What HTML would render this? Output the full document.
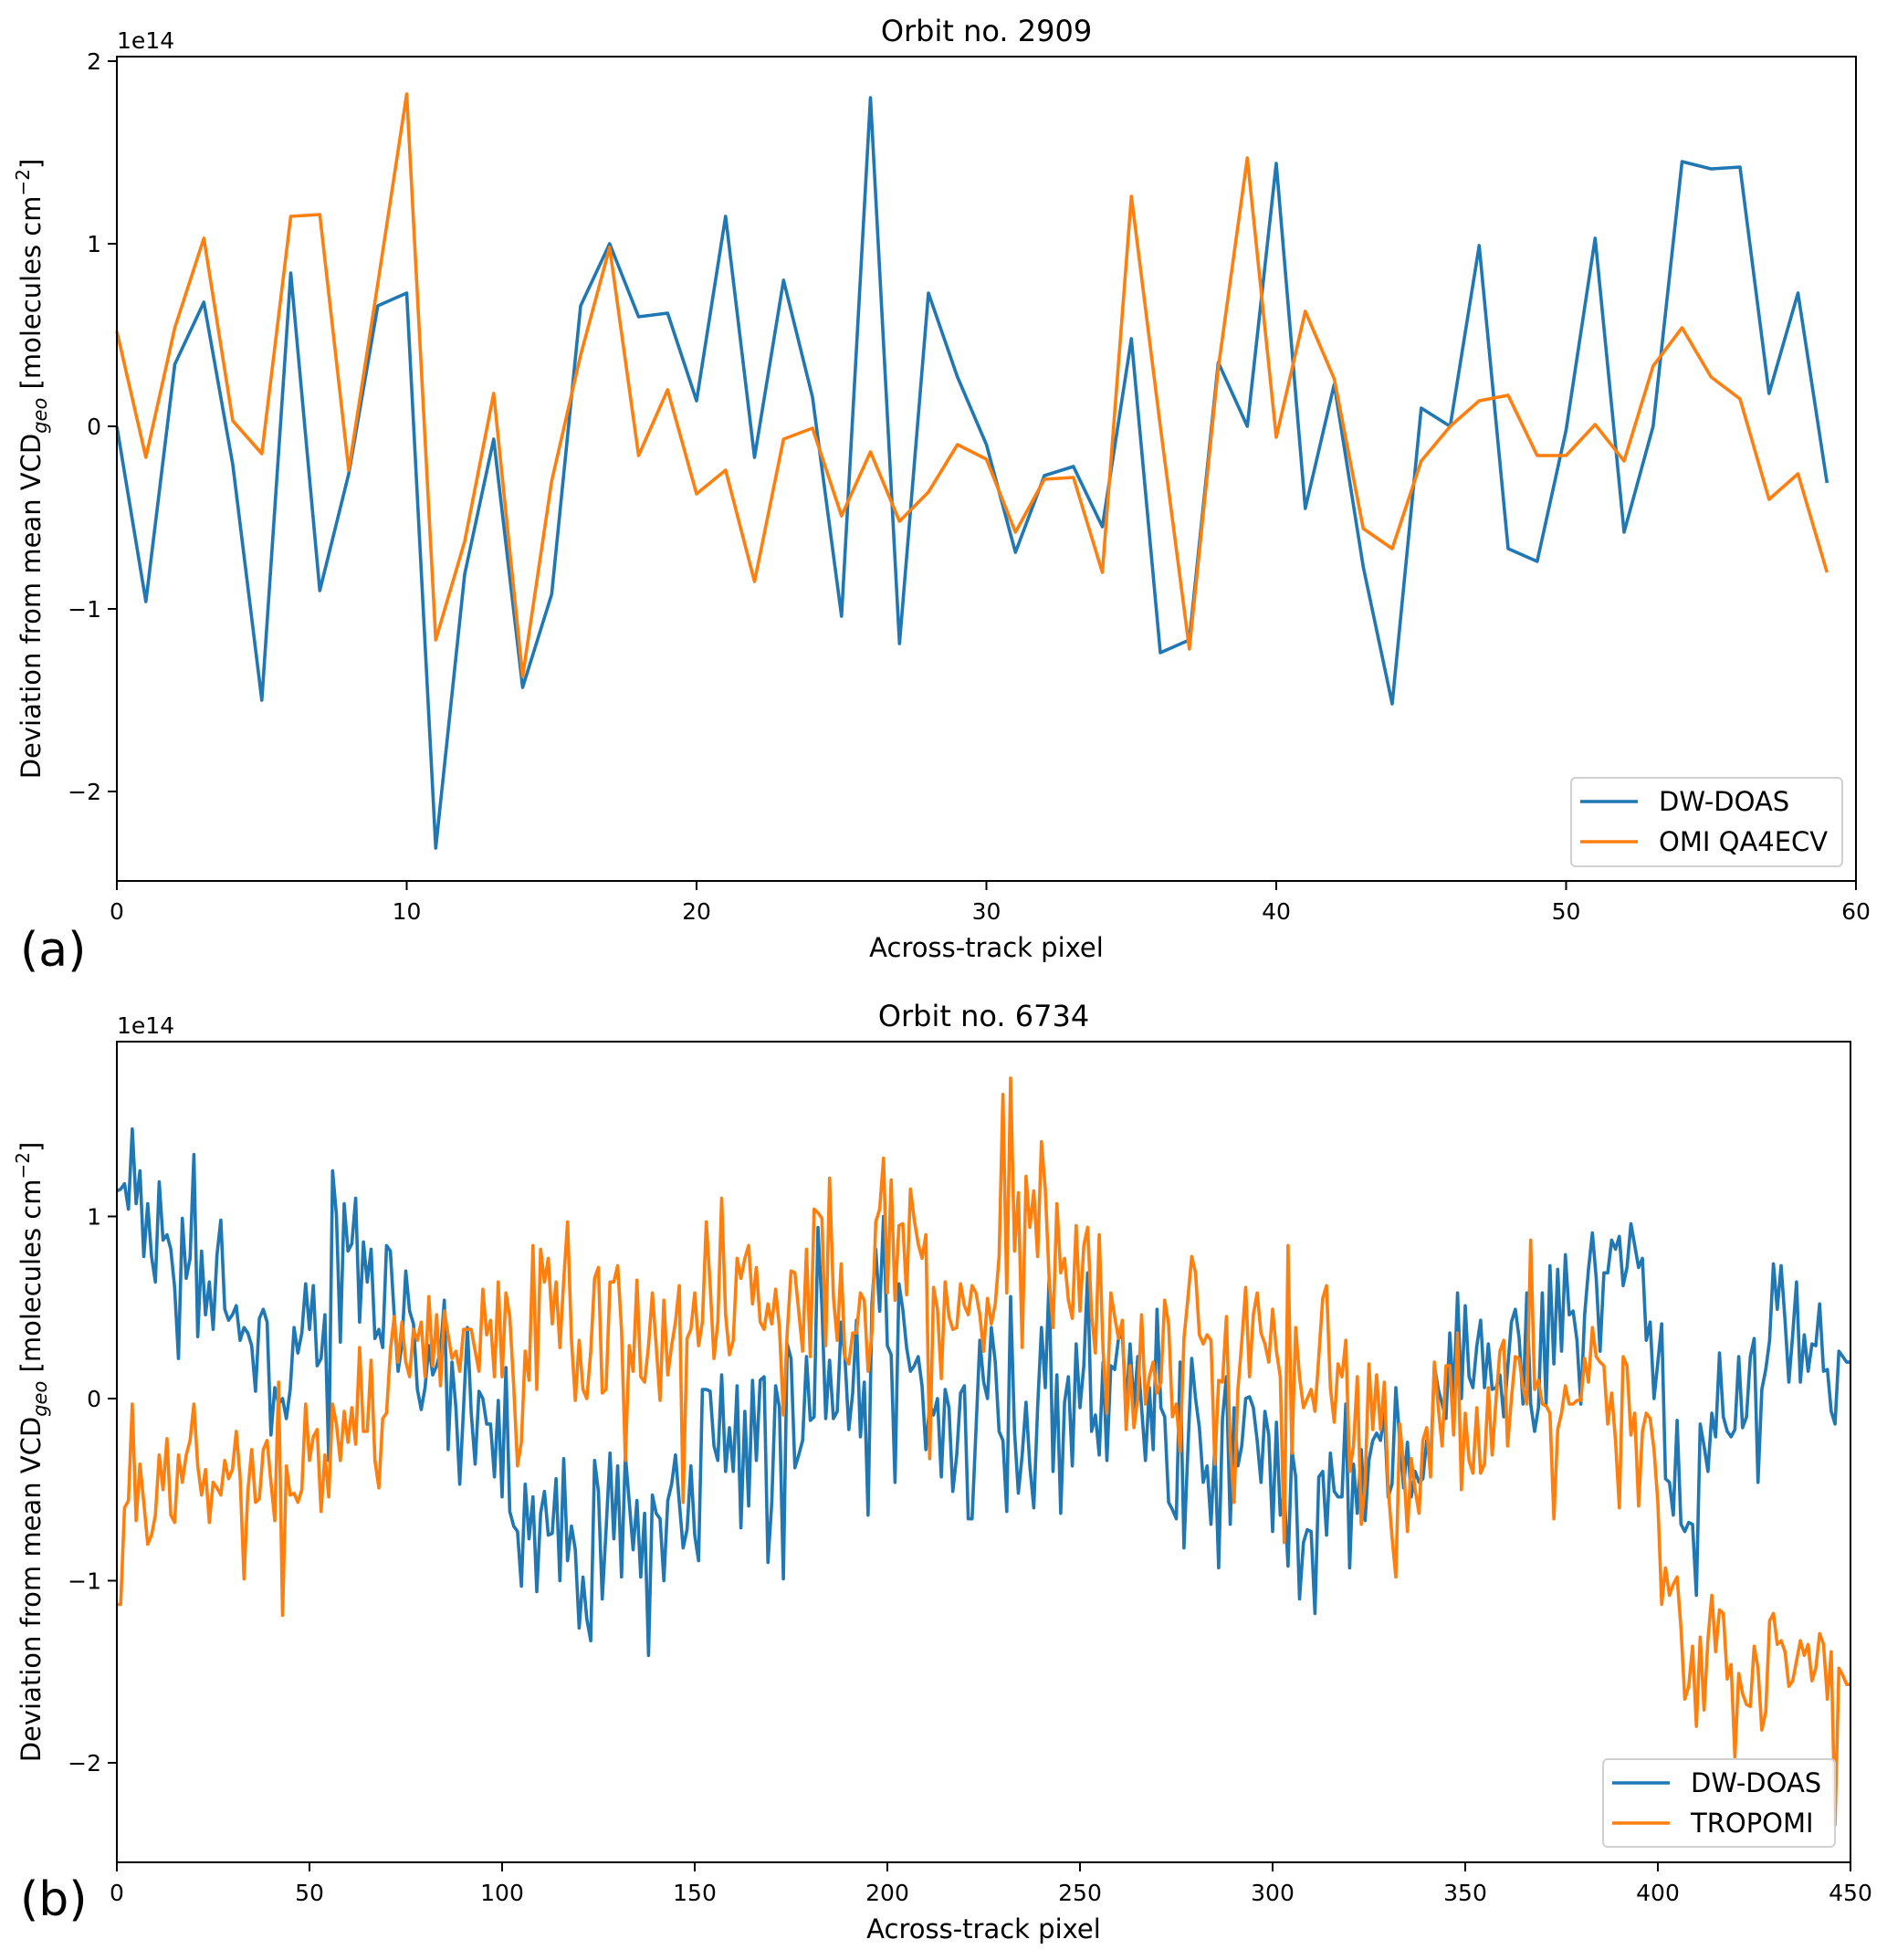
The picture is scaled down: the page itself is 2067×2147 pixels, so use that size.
<!DOCTYPE html>
<html><head><meta charset="utf-8">
<style>
html,body{margin:0;padding:0;background:#fff;}
svg{display:block;font-family:"DejaVu Sans","Liberation Sans",sans-serif;}
</style></head>
<body>
<svg id="fig" width="2067" height="2147" viewBox="0 0 2067 2147" xmlns="http://www.w3.org/2000/svg">
<rect x="0" y="0" width="2067" height="2147" fill="#fff"/>
<g id="panelA"></g>
<g id="panelB"></g>
</svg>
<script>
// ---- Panel (a) data ----
const aTicksX = [0,10,20,30,40,50,60];
const aTicksY = [2,1,0,-1,-2];
const aDw = [0.0,-0.96,0.34,0.68,-0.21,-1.50,0.84,-0.90,-0.26,0.66,0.73,-2.31,-0.81,-0.07,-1.43,-0.92,0.66,1.00,0.60,0.62,0.14,1.15,-0.17,0.80,0.16,-1.04,1.80,-1.19,0.73,0.27,-0.10,-0.69,-0.27,-0.22,-0.55,0.48,-1.24,-1.17,0.35,0.0,1.44,-0.45,0.23,-0.77,-1.52,0.10,0.0,0.99,-0.67,-0.74,-0.02,1.03,-0.58,0.0,1.45,1.41,1.42,0.18,0.73,-0.31];
const aOmi = [0.52,-0.17,0.54,1.03,0.03,-0.15,1.15,1.16,-0.24,0.78,1.82,-1.17,-0.63,0.18,-1.37,-0.30,0.39,0.98,-0.16,0.20,-0.37,-0.24,-0.85,-0.07,-0.01,-0.49,-0.14,-0.52,-0.36,-0.10,-0.18,-0.58,-0.29,-0.28,-0.80,1.26,0.0,-1.22,0.32,1.47,-0.06,0.63,0.26,-0.56,-0.67,-0.19,0.0,0.14,0.17,-0.16,-0.16,0.01,-0.19,0.33,0.54,0.27,0.15,-0.40,-0.26,-0.80];

// ---- Panel (b) data ----
const bTicksX = [0,50,100,150,200,250,300,350,400,450];
const bTicksY = [1,0,-1,-2];
const bDw1 = [1.14,1.15,1.18,1.04,1.48,1.07,1.25,0.78,1.07,0.78,0.64,1.19,0.87,0.90,0.82,0.61,0.22,0.99,0.66,0.77,1.34,0.34,0.81,0.46,0.64,0.38,0.79,0.98,0.49,0.43,0.46,0.51,0.32,0.39,0.36,0.29,0.04,0.44,0.49,0.42,-0.20,0.06,-0.03,0.0,-0.11,0.05,0.39,0.25,0.36,0.63,0.38,0.62,0.18,0.22,0.46,-0.34,1.25,1.01,0.31,1.07,0.81,0.85,1.10,0.42,0.86,0.64,0.82,0.33,0.38,0.28,0.84,0.81,0.46,0.15,0.30,0.70,0.48,0.41,0.05,-0.06,0.06,0.29,0.13,0.18,0.26,0.54,-0.28,0.20,-0.05,-0.47,-0.05,0.39,-0.08,-0.36,0.04,0.0,-0.14,-0.14,-0.43,-0.01,-0.54,0.17,-0.62,-0.70,-0.73,-1.03,-0.47,-0.77,-0.54,-1.06,-0.63,-0.51,-0.75,-0.74,-0.44,-1.00,-0.33,-0.89,-0.70,-0.83,-1.26,-0.98,-1.21,-1.33,-0.34,-0.51,-1.10,-0.72,-0.30,-0.77,-0.37,-0.98,-0.31,-0.57,-0.83,-0.56,-0.98,-0.63,-1.41,-0.53,-0.63,-0.66,-1.00,-0.56,-0.47,-0.31,-0.57,-0.82,-0.72,-0.37,-0.75,-0.89];
const bDw2 = [0.05,0.05,0.04,-0.26,-0.34,0.13,-0.40,-0.16,-0.40,0.07,-0.71,-0.07,-0.59,0.10,-0.34,0.10,0.12,-0.90,-0.57,0.07,-0.05,-0.99,0.30,0.22,-0.38,-0.31,-0.23,0.23,-0.12,-0.10,0.94,0.51,-0.11,0.21,-0.11,-0.07,0.42,0.22,-0.17,0.03,0.43,-0.21,0.09,-0.64,0.52,0.82,0.48,1.00,0.29,0.24,-0.46,0.63,0.49,0.28,0.15,0.18,0.23,0.07,-0.28,-0.03,-0.09,0.00,-0.43,0.05,-0.05,-0.51,-0.31,0.03,0.07,-0.66,-0.66,-0.17,0.32,0.09,0.00,0.39,0.20,-0.18,-0.23,-0.62,0.56,-0.18,-0.52,-0.31,-0.02,-0.37,-0.60,-0.05,0.39,0.06,0.66,-0.40,0.13,-0.63,-0.02,0.12,-0.37,0.30,-0.05,0.18,0.69,-0.18,-0.09,-0.31,0.20,-0.34,0.18,0.16,0.33,0.35,-0.05,0.30,-0.05,0.23,-0.05,-0.34,0.06,-0.28,0.49,-0.05,-0.10,-0.57,-0.61,-0.66,0.20,-0.82,-0.28,0.22,0.00,-0.16,-0.46,-0.37,-0.69,-0.26,-0.93,-0.11,0.12,-0.69,-0.05,-0.37,-0.26,0.00,0.01,-0.05,-0.23,-0.46,-0.07,-0.20,-0.73];
const bDw3 = [-0.13,-0.64,-0.51,-0.92,-0.28,-0.43,-1.10,-0.79,-0.72,-0.73,-1.18,-0.43,-0.40,-0.75,-0.30,-0.51,-0.54,-0.54,-0.03,-0.93,-0.36,-0.63,-0.28,-0.67,-0.34,-0.23,-0.19,-0.23,-0.08,-0.54,-0.47,0.06,-0.23,-0.49,-0.24,-0.54,-0.40,-0.46,-0.44,-0.23,-0.37,0.18,0.05,-0.03,-0.11,0.36,0.00,0.58,0.00,0.51,0.12,0.06,0.29,0.43,0.06,0.30,0.05,0.06,0.13,-0.10,0.16,0.42,0.49,0.33,-0.03,0.58,-0.03,-0.18,-0.05,0.58,-0.03,0.73,0.19,0.71,0.26,0.79,0.46,0.48,0.32,-0.03,0.46,0.71,0.91,0.66,0.26,0.69,0.69,0.87,0.82,0.89,0.62,0.72,0.96,0.84,0.72,0.77,0.32,0.42,0.00,0.20,0.41,-0.44,-0.46,-0.64,-0.12,-0.69,-0.73,-0.68,-0.69,-1.08,-0.14,-0.26,-0.40,-0.08,-0.21,0.25,-0.10,-0.18,-0.21,-0.17,0.23,-0.16,-0.10,0.23,0.33,-0.46,0.05,0.16,0.32,0.74,0.49,0.73,0.43,0.09,0.35,0.64,0.09,0.35,0.15,0.30,0.29,0.52,0.15,0.16,-0.07,-0.14,0.26,0.23,0.20,0.20];
const bTr1 = [-1.13,-1.13,-0.60,-0.56,-0.03,-0.67,-0.36,-0.57,-0.80,-0.75,-0.64,-0.31,-0.50,-0.22,-0.64,-0.68,-0.31,-0.46,-0.31,-0.23,-0.03,-0.37,-0.53,-0.39,-0.68,-0.46,-0.49,-0.53,-0.34,-0.44,-0.39,-0.18,-0.43,-0.99,-0.51,-0.28,-0.57,-0.55,-0.28,-0.23,-0.46,-0.67,0.09,-1.19,-0.37,-0.53,-0.52,-0.57,-0.50,-0.03,-0.34,-0.21,-0.17,-0.62,-0.31,-0.54,-0.03,-0.14,-0.34,-0.07,-0.24,-0.05,-0.25,0.28,-0.18,-0.18,0.21,-0.34,-0.49,-0.11,-0.08,0.26,0.45,0.20,0.42,0.20,0.12,0.38,0.32,0.42,0.12,0.56,0.18,0.46,0.07,0.48,0.35,0.22,0.26,0.15,0.38,0.38,0.38,0.26,0.15,0.60,0.35,0.43,0.12,0.64,0.12,0.58,0.45,0.07,-0.37,-0.24,0.26,0.10,0.84,0.05,0.82,0.64,0.77,0.41,0.64,0.28,0.65,0.97,0.32,-0.01,0.32,0.05,0.0,0.26,0.66,0.72,0.03,0.05,0.64,0.64,0.73,0.38,-0.34,0.29,0.15,0.65,0.12,0.09,0.29,0.58,0.29,-0.01,0.54,0.13,0.29,0.42,0.62,-0.57,0.33,0.38,0.58,0.29];
const bTr2 = [0.42,0.97,0.62,0.22,0.42,1.10,0.46,0.24,0.32,0.77,0.66,0.77,0.84,0.52,0.72,0.42,0.38,0.52,0.41,0.60,0.39,-0.09,0.36,0.70,0.69,0.48,0.26,0.82,0.23,1.04,1.02,0.99,0.29,1.21,0.56,0.32,0.74,0.23,0.19,0.36,0.36,0.58,0.54,0.15,0.36,0.97,1.04,1.32,0.58,1.20,0.54,0.95,0.96,0.57,1.15,0.98,0.85,0.77,0.90,-0.33,0.61,0.49,0.11,0.64,0.45,0.38,0.39,0.63,0.51,0.46,0.62,0.58,0.46,0.26,0.55,0.41,0.52,0.78,1.67,0.58,1.76,0.81,1.13,0.28,1.22,0.94,1.14,0.78,1.41,1.15,0.66,0.39,1.07,0.69,0.77,0.54,0.44,0.95,0.48,0.84,0.94,0.46,0.25,0.90,0.26,-0.08,0.58,0.45,0.33,0.43,-0.17,0.18,-0.16,0.0,0.46,-0.03,0.12,0.20,0.03,0.09,0.54,0.41,-0.10,-0.03,-0.29,0.33,0.55,0.78,0.69,0.35,0.30,0.35,0.32,-0.36,0.10,0.09,0.45,-0.27,-0.57,0.05,0.31,0.61,0.12,0.46,0.58,0.36,0.30,0.20,0.49];
const bTr3 = [0.26,0.12,-0.79,0.84,-0.30,0.39,0.12,-0.05,0.0,0.05,-0.07,0.23,0.55,0.62,0.06,-0.13,0.19,0.12,0.32,-0.40,-0.26,0.12,-0.69,-0.47,0.19,-0.17,0.13,-0.17,0.09,-0.49,-0.76,-0.98,-0.14,-0.37,-0.73,-0.33,-0.50,-0.63,-0.23,-0.16,-0.43,0.20,-0.05,-0.26,0.18,0.18,-0.20,0.36,-0.50,-0.08,-0.34,-0.41,-0.05,-0.41,-0.36,0.06,-0.31,0.0,0.26,0.32,-0.26,0.0,0.23,0.22,0.06,-0.03,0.87,0.05,0.10,-0.03,-0.04,-0.08,-0.66,-0.17,-0.08,0.07,-0.03,-0.03,-0.01,-0.01,0.22,0.09,0.39,0.23,0.20,0.18,-0.14,0.03,-0.23,-0.60,0.23,0.18,-0.20,-0.08,-0.59,-0.18,-0.08,-0.11,-0.28,-0.57,-1.13,-0.93,-1.08,-1.02,-0.98,-1.26,-1.65,-1.58,-1.36,-1.80,-1.31,-1.71,-1.32,-1.08,-1.39,-1.16,-1.18,-1.54,-1.46,-1.97,-1.51,-1.62,-1.68,-1.69,-1.36,-1.48,-1.82,-1.72,-1.22,-1.18,-1.35,-1.33,-1.39,-1.58,-1.55,-1.44,-1.33,-1.41,-1.35,-1.55,-1.48,-1.29,-1.35,-1.65,-1.39,-2.34,-1.48,-1.52,-1.57,-1.57];
const bDw = bDw1.concat(bDw2, bDw3);
const bTr = bTr1.concat(bTr2, bTr3);

const NS = 'http://www.w3.org/2000/svg';
function mk(parent, tag, attrs, text){
  const e = document.createElementNS(NS, tag);
  for (const k in attrs) e.setAttribute(k, attrs[k]);
  if (text !== undefined) e.textContent = text;
  parent.appendChild(e);
  return e;
}
function fmt(v){ return v < 0 ? '\u2212' + Math.abs(v) : String(v); }

function drawPanel(g, cfg){
  const sx = v => cfg.left + (v - cfg.xmin) / (cfg.xmax - cfg.xmin) * (cfg.right - cfg.left);
  const sy = v => cfg.zeroY - v * cfg.ppu;
  cfg.series.forEach(s => {
    const pts = s.data.map((v,i) => sx(i).toFixed(1) + ',' + sy(v).toFixed(1)).join(' ');
    const pl = mk(g, 'polyline', {points: pts, fill: 'none', stroke: s.color, 'stroke-width': 3.6, 'stroke-linejoin': 'round'});
    
    
  });
  const fr = mk(g, 'rect', {x: cfg.left, y: cfg.top, width: cfg.right - cfg.left, height: cfg.bottom - cfg.top, fill: 'none', stroke: '#000', 'stroke-width': 2});
  
  
  cfg.xt.forEach(t => {
    const x = sx(t);
    const tk = mk(g, 'line', {x1: x, x2: x, y1: cfg.bottom, y2: cfg.bottom + 10, stroke: '#000', 'stroke-width': 2});
    
    
    const lb = mk(g, 'text', {x: x, y: cfg.bottom + 42, 'text-anchor': 'middle', 'font-size': 25, fill: '#000'}, fmt(t));
    
    
  });
  cfg.yt.forEach(t => {
    const y = sy(t);
    const tk = mk(g, 'line', {x1: cfg.left - 10, x2: cfg.left, y1: y, y2: y, stroke: '#000', 'stroke-width': 2});
    
    
    const lb = mk(g, 'text', {x: cfg.left - 17, y: y + 9, 'text-anchor': 'end', 'font-size': 25, fill: '#000'}, fmt(t));
    
    
  });
  const off = mk(g, 'text', {x: cfg.left, y: cfg.top - 9, 'font-size': 25, fill: '#000'}, '1e14');
  
  
  const tt = mk(g, 'text', {x: (cfg.left + cfg.right)/2, y: cfg.top - 17, 'text-anchor': 'middle', 'font-size': 32, fill: '#000'}, cfg.title);
  
  
  const xl = mk(g, 'text', {x: (cfg.left + cfg.right)/2, y: cfg.bottom + 83, 'text-anchor': 'middle', 'font-size': 29, fill: '#000'}, 'Across-track pixel');
  
  
  const cy = (cfg.top + cfg.bottom)/2;
  const yl = mk(g, 'text', {x: 0, y: 0, 'text-anchor': 'middle', 'font-size': 29, fill: '#000', transform: 'translate(44,' + cy + ') rotate(-90)'});
  
  
  mk(yl, 'tspan', {}, 'Deviation from mean VCD');
  mk(yl, 'tspan', {'font-size': 21, dy: 7, 'font-style': 'italic'}, 'geo');
  mk(yl, 'tspan', {dy: -7}, ' [molecules cm');
  mk(yl, 'tspan', {'font-size': 20, dy: -12}, '\u22122');
  mk(yl, 'tspan', {dy: 12}, ']');
  const pl = mk(g, 'text', {x: 22, y: cfg.panelY, 'font-size': 52, fill: '#000'}, cfg.panel);
  
  
  const L = cfg.legend;
  const lg = mk(g, 'g', {});
  
  
  mk(lg, 'rect', {x: L.x, y: L.y, width: L.w, height: L.h, rx: 5, fill: '#fff', 'fill-opacity': 0.85, stroke: '#d0d0d0', 'stroke-width': 2});
  cfg.series.forEach((s, i) => {
    const ry = L.y + 26 + i * 44;
    const ent = mk(lg, 'g', {});
    
    
    mk(ent, 'line', {x1: L.x + 10, x2: L.x + 73, y1: ry, y2: ry, stroke: s.color, 'stroke-width': 3.6});
    mk(ent, 'text', {x: L.x + 96, y: ry + 10, 'font-size': 29, fill: '#000'}, s.label);
  });
}

drawPanel(document.getElementById('panelA'), {
  left: 128, right: 2033, top: 62, bottom: 965, zeroY: 467, ppu: 200, xmin: 0, xmax: 60,
  xt: aTicksX, yt: aTicksY, title: 'Orbit no. 2909', panel: '(a)', panelY: 1058,
  series: [{data: aDw, color: '#1f77b4', name: 'dw-doas-line', label: 'DW-DOAS'},
           {data: aOmi, color: '#ff7f0e', name: 'omi-qa4ecv-line', label: 'OMI QA4ECV'}],
  legend: {x: 1721, y: 852, w: 297, h: 97}
});
drawPanel(document.getElementById('panelB'), {
  left: 128, right: 2027, top: 1141, bottom: 2040, zeroY: 1532, ppu: 199.5, xmin: 0, xmax: 450,
  xt: bTicksX, yt: bTicksY, title: 'Orbit no. 6734', panel: '(b)', panelY: 2098,
  series: [{data: bDw, color: '#1f77b4', name: 'dw-doas-line', label: 'DW-DOAS'},
           {data: bTr, color: '#ff7f0e', name: 'tropomi-line', label: 'TROPOMI'}],
  legend: {x: 1756, y: 1927, w: 254, h: 96}
});
</script>
</body></html>
